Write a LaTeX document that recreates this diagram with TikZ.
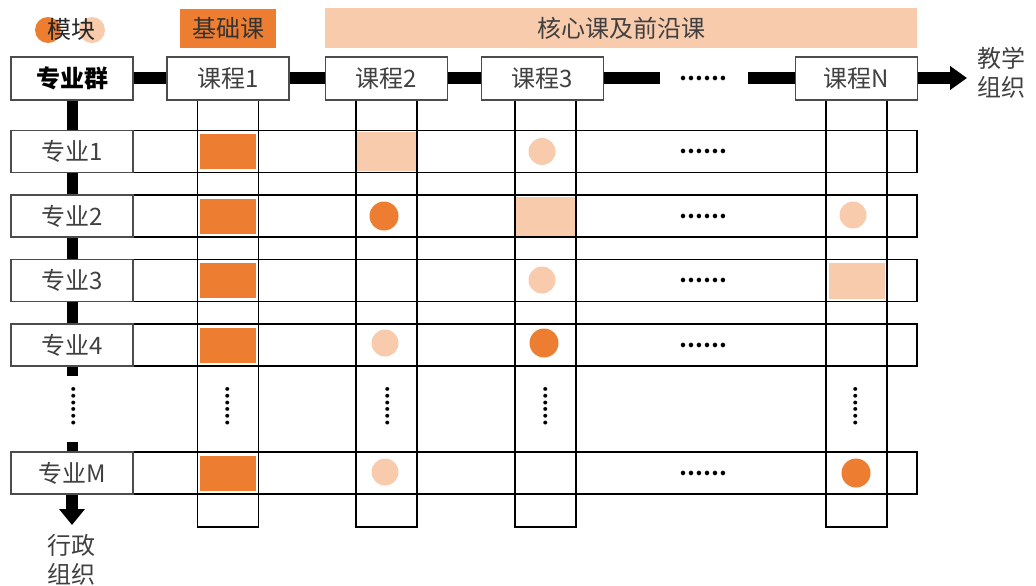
\documentclass[tikz,border=0pt]{standalone}
\usepackage{fontspec}
\setmainfont{Noto Sans CJK SC}
\usetikzlibrary{arrows.meta}
\definecolor{dko}{HTML}{ED7D31}
\definecolor{lto}{HTML}{F8CBAD}
\definecolor{txt}{HTML}{404040}
\begin{document}
\begin{tikzpicture}[x=1pt,y=-1pt,
  band/.style={draw=black,line width=1.8pt,inner sep=0pt},
  rowband/.style={band,minimum width=906pt,minimum height=42pt},
  colband/.style={band,minimum width=61pt,minimum height=427pt},
  hbox/.style={draw=black!70,line width=1.2pt,fill=white,minimum width=122pt,minimum height=43pt,inner sep=0pt,font=\fontsize{24}{26}\selectfont,text=txt},
  zbox/.style={hbox,minimum height=42pt},
  bar/.style={line width=11pt,black},
  darkrect/.style={fill=dko,draw=white,line width=0.8pt,minimum width=57pt,minimum height=36pt,inner sep=0pt},
  lightrect/.style={fill=lto,minimum width=59pt,minimum height=39pt,inner sep=0pt},
  darkcirc/.style={circle,fill=dko,minimum size=29pt,inner sep=0pt},
  lightcirc/.style={circle,fill=lto,minimum size=27pt,inner sep=0pt},
  hdots/.style={font=\fontsize{21}{21}\selectfont\bfseries,inner sep=0pt,text=black},
  vdots/.style={hdots,rotate=90,font=\fontsize{18}{18}\selectfont\bfseries},
  lbl/.style={font=\fontsize{24}{29}\selectfont,text=txt,align=center,inner sep=0pt},
  catbox/.style={inner sep=0pt,font=\fontsize{24}{26}\selectfont,text=txt}
]
\useasboundingbox (0,0) rectangle (1036,586);
% legend
\node[circle,fill=dko,minimum size=26pt,inner sep=0pt] (lgd) at (48,30) {};
\node[circle,fill=lto,minimum size=26pt,inner sep=0pt] (lgl) at (92,30) {};
\node[catbox,text=black!85] (lgt) at (71,29) {模块};
% category boxes
\node[catbox,fill=dko,minimum width=96pt,minimum height=39pt,text=black!80] (cat1) at (228,28.5) {基础课};
\node[catbox,fill=lto,minimum width=592pt,minimum height=40pt] (cat2) at (621,28) {核心课及前沿课};
% bands
\node[rowband] (r1) at (464,151.5) {};
\node[rowband] (r2) at (464,216) {};
\node[rowband] (r3) at (464,280.5) {};
\node[rowband] (r4) at (464,345) {};
\node[rowband] (rM) at (464,473) {};
\node[colband] (c1) at (228,313.5) {};
\node[colband] (c2) at (386.5,313.5) {};
\node[colband] (c3) at (545.5,313.5) {};
\node[colband] (cN) at (856.5,313.5) {};
% coordinates for bars
\coordinate (hb1) at (660,78);
\coordinate (hb2) at (748,78);
\coordinate (htip) at (967,78);
\coordinate (vb1) at (72,376);
\coordinate (vb2) at (72,442);
\coordinate (vtip) at (72,525);
% header boxes
\node[hbox,text=black,font=\fontsize{24}{26}\selectfont\bfseries] (zyq) at (72,78.5) {专业群};
\node[hbox] (k1) at (228,78.5) {课程1};
\node[hbox] (k2) at (386.5,78.5) {课程2};
\node[hbox] (k3) at (542.5,78.5) {课程3};
\node[hbox] (kN) at (856.5,78.5) {课程N};
\node[hdots] (hd) at (703,78) {……};
% bars
\draw[bar] (zyq.east |- hb1) -- (k1.west |- hb1);
\draw[bar] (k1.east |- hb1) -- (k2.west |- hb1);
\draw[bar] (k2.east |- hb1) -- (k3.west |- hb1);
\draw[bar] (k3.east |- hb1) -- (hb1);
\draw[bar] (hb2) -- (kN.west |- hb2);
\draw[bar,-{Triangle[length=17pt,width=23pt]}] (kN.east |- htip) -- (htip);
\draw[bar] (zyq.south) -- (vb1);
\draw[bar] (vb2) -- (72,452);
\draw[bar,line width=12pt,-{Triangle[length=16pt,width=25pt]}] (72,494) -- (vtip);
% row boxes
\node[zbox] (z1) at (72,151.5) {专业1};
\node[zbox] (z2) at (72,216) {专业2};
\node[zbox] (z3) at (72,280.5) {专业3};
\node[zbox] (z4) at (72,345) {专业4};
\node[zbox] (zM) at (72,473) {专业M};
% cells
\node[darkrect] at (c1 |- r1) {};
\node[lightrect] at (c2 |- r1) {};
\node[lightcirc] at (542,151.5) {};
\node[darkrect] at (c1 |- r2) {};
\node[darkcirc] at (384,216) {};
\node[lightrect] at (c3 |- r2) {};
\node[lightcirc] at (853,215) {};
\node[darkrect] at (c1 |- r3) {};
\node[lightcirc] at (542,280) {};
\node[lightrect,minimum width=56pt,minimum height=36pt] at (cN |- r3) {};
\node[darkrect] at (c1 |- r4) {};
\node[lightcirc] at (385,343) {};
\node[darkcirc] at (544,343) {};
\node[darkrect] at (c1 |- rM) {};
\node[lightcirc] at (385,472) {};
\node[darkcirc] at (856,473) {};
% row dots
\node[hdots] at (703,151.5) {……};
\node[hdots] at (703,216) {……};
\node[hdots] at (703,280.5) {……};
\node[hdots] at (703,345) {……};
\node[hdots] at (703,473) {……};
% vertical dots
\node[vdots] at (74,406.5) {……};
\node[vdots] at (228,406.5) {……};
\node[vdots] at (388,406.5) {……};
\node[vdots] at (546,406.5) {……};
\node[vdots] at (856,406.5) {……};
% labels
\node[lbl] (jx) at (1001,73) {教学\\组织};
\node[lbl] (xz) at (71,560) {行政\\组织};
\end{tikzpicture}
\end{document}
